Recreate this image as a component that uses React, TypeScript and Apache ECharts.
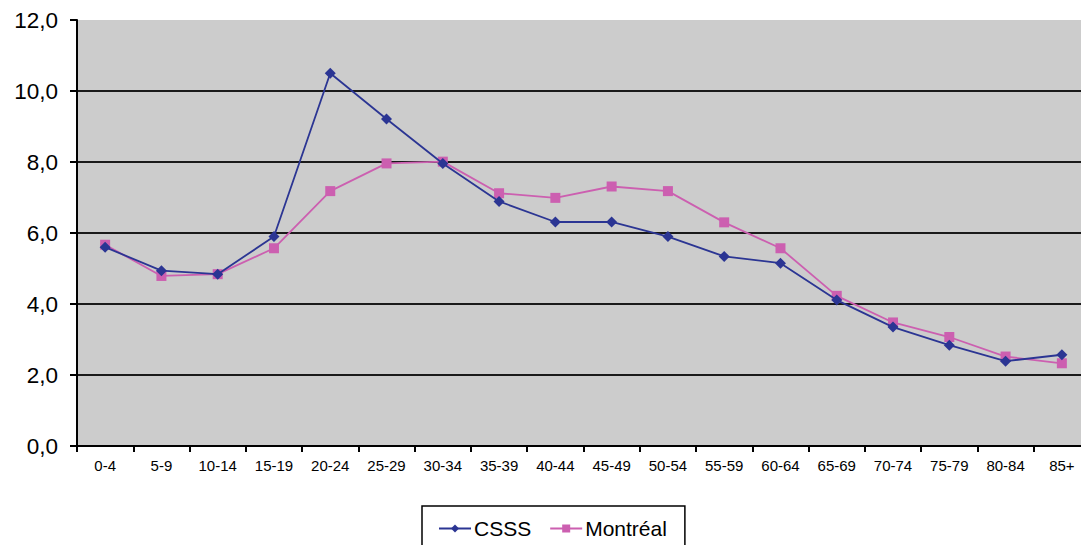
import React, { useEffect, useRef } from "react";
import * as echarts from "echarts";

const categories = ["0-4", "5-9", "10-14", "15-19", "20-24", "25-29", "30-34", "35-39", "40-44", "45-49", "50-54", "55-59", "60-64", "65-69", "70-74", "75-79", "80-84", "85+"];
const csss = [5.6, 4.94, 4.84, 5.9, 10.5, 9.21, 7.96, 6.89, 6.31, 6.31, 5.9, 5.34, 5.15, 4.11, 3.35, 2.84, 2.39, 2.57];
const montreal = [5.67, 4.79, 4.84, 5.57, 7.18, 7.96, 8.01, 7.12, 6.99, 7.31, 7.18, 6.3, 5.57, 4.23, 3.48, 3.07, 2.52, 2.33];
const yTicks = { min: 0, max: 12, interval: 2 };

const FONT = "Liberation Sans, Arial, sans-serif";

export default function App() {
  const ref = useRef<HTMLDivElement>(null);
  useEffect(() => {
    if (!ref.current) return;
    const chart = echarts.init(ref.current, undefined, { renderer: "svg" });
    chart.setOption({
      animation: false,
      backgroundColor: "#ffffff",
      grid: {
        left: 77,
        top: 20,
        right: 10,
        bottom: 99,
        show: true,
        backgroundColor: "#CCCCCC",
        borderWidth: 0,
      },
      legend: {
        left: 422,
        top: 506,
        padding: [12, 18, 12, 16],
        borderColor: "#000000",
        borderWidth: 1.5,
        itemGap: 18,
        itemWidth: 32,
        itemHeight: 10,
        textStyle: { fontFamily: FONT, fontSize: 21, color: "#000", padding: [0, 0, 0, -2] },
        data: ["CSSS", "Montréal"],
      },
      xAxis: {
        type: "category",
        data: categories,
        boundaryGap: true,
        axisLine: { show: true, lineStyle: { color: "#000", width: 2 } },
        axisTick: { show: true, length: 6, lineStyle: { color: "#000", width: 2 } },
        axisLabel: { fontFamily: FONT, fontSize: 15, color: "#000", margin: 12, interval: 0 },
        splitLine: { show: false },
      },
      yAxis: {
        type: "value",
        min: yTicks.min,
        max: yTicks.max,
        interval: yTicks.interval,
        axisLine: { show: true, lineStyle: { color: "#000", width: 2 } },
        axisTick: { show: true, length: 7, lineStyle: { color: "#000", width: 2 } },
        axisLabel: {
          fontFamily: FONT,
          fontSize: 22.5,
          color: "#000",
          margin: 19,
          formatter: (v: number) => v.toFixed(1).replace(".", ","),
        },
        splitLine: { show: true, showMaxLine: false, lineStyle: { color: "#1a1a1a", width: 2 } },
      },
      series: [
        {
          name: "Montréal",
          type: "line",
          data: montreal,
          symbol: "rect",
          symbolSize: 10,
          z: 2,
          lineStyle: { color: "#CC5FB0", width: 1.8 },
          itemStyle: { color: "#CC5FB0" },
        },
        {
          name: "CSSS",
          type: "line",
          data: csss,
          symbol: "diamond",
          symbolSize: 11,
          z: 3,
          lineStyle: { color: "#2B3593", width: 1.8 },
          itemStyle: { color: "#2B3593" },
        },
      ],
    });
    return () => chart.dispose();
  }, []);
  return (
    <div style={{ position: "absolute", left: 0, top: 0, width: 1081, height: 545, overflow: "hidden" }}>
      <div ref={ref} style={{ width: 1100, height: 545 }} />
    </div>
  );
}
